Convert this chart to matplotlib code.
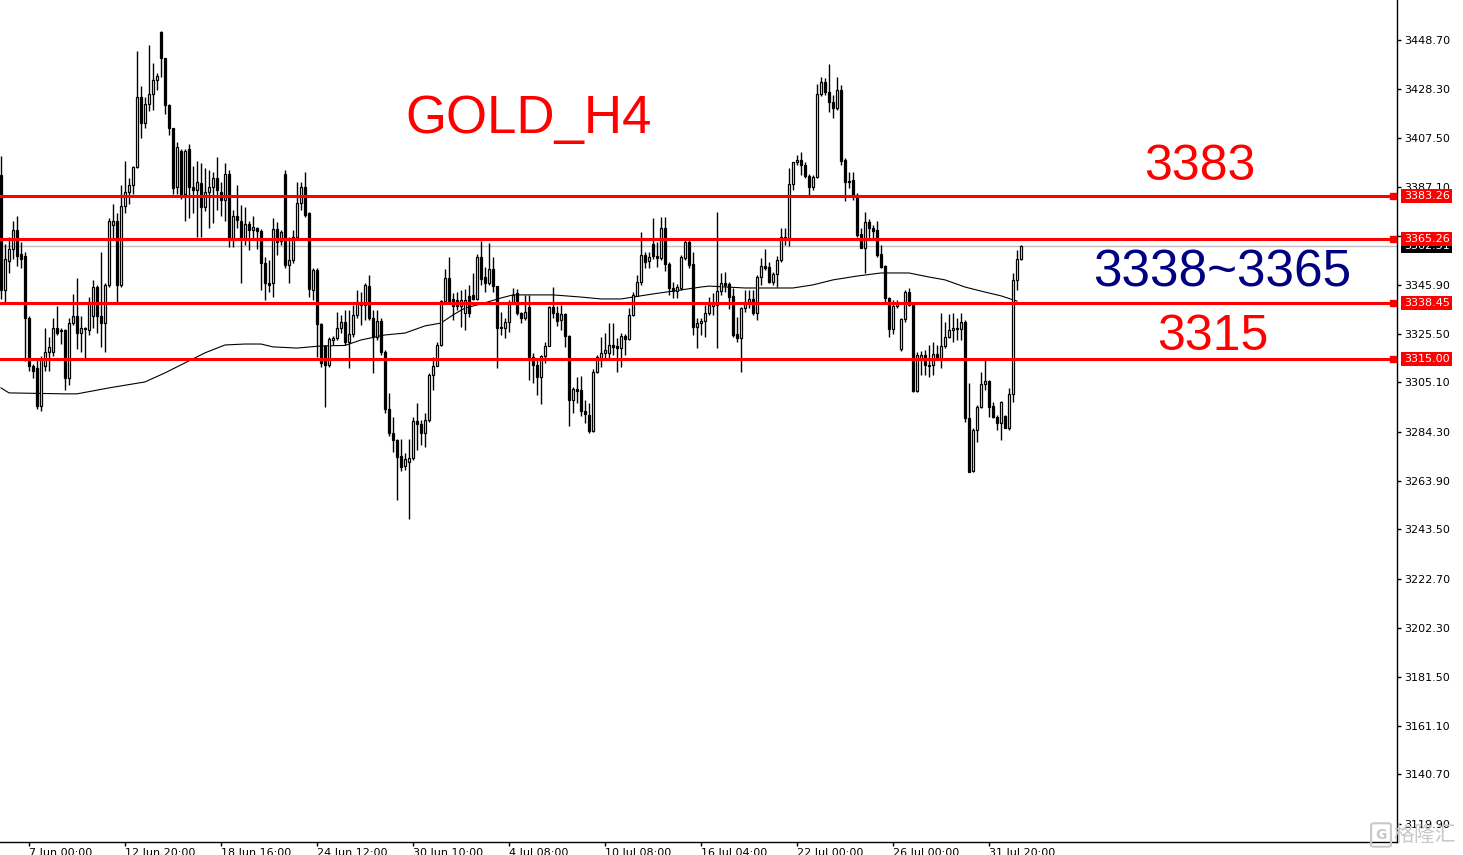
import matplotlib.pyplot as plt
import matplotlib.transforms as mtransforms
from matplotlib.patches import FancyBboxPatch
import numpy as np

# GOLD H4 candles (oldest first)
opens = [
    3392.0, 3344.0, 3356.0, 3361.0, 3369.0, 3359.0, 3358.0, 3332.0, 3312.0, 3311.0,
    3295.0, 3312.0, 3318.0, 3318.0, 3328.0, 3327.0, 3327.0, 3307.0, 3330.0, 3333.0,
    3326.0, 3328.0, 3327.0, 3333.0, 3345.0, 3333.0, 3330.0, 3346.0, 3371.0, 3373.0,
    3346.0, 3379.0, 3385.0, 3388.0, 3395.5, 3425.0, 3414.0, 3422.0, 3426.0, 3432.0,
    3452.0, 3441.0, 3421.5, 3412.0, 3387.0, 3402.0, 3384.0, 3403.0, 3387.0, 3386.0,
    3388.7, 3378.7, 3385.0, 3387.0, 3391.0, 3385.0, 3381.6, 3392.5, 3365.7, 3375.0,
    3373.0, 3365.7, 3371.6, 3369.0, 3369.9, 3368.6, 3355.2, 3347.0, 3346.8, 3369.5,
    3364.4, 3392.5, 3354.4, 3356.5, 3366.0, 3380.4, 3387.0, 3376.2, 3343.9, 3352.3,
    3329.6, 3320.4, 3312.4, 3322.9, 3323.7, 3327.9, 3330.5, 3322.1, 3325.4, 3333.4,
    3337.6, 3337.6, 3345.5, 3332.1, 3324.2, 3330.9, 3317.9, 3294.0, 3283.9, 3281.0,
    3274.3, 3270.1, 3271.7, 3273.4, 3288.9, 3287.7, 3283.9, 3289.4, 3308.2, 3312.0,
    3320.8, 3339.3, 3348.9, 3340.0, 3339.7, 3337.0, 3334.0, 3341.3, 3341.8, 3340.1,
    3357.7, 3349.3, 3346.8, 3352.7, 3345.5, 3328.4, 3327.9, 3330.5, 3338.0, 3342.6,
    3334.2, 3332.1, 3336.7, 3315.8, 3312.3, 3307.5, 3316.2, 3320.4, 3336.7, 3334.2,
    3331.3, 3333.8, 3324.6, 3297.7, 3302.3, 3301.9, 3293.2, 3291.5, 3284.7, 3309.5,
    3315.3, 3317.5, 3317.5, 3320.8, 3320.4, 3319.6, 3324.6, 3323.3, 3333.4, 3341.4,
    3347.2, 3358.6, 3356.0, 3363.0, 3358.1, 3357.3, 3369.9, 3354.8, 3344.7, 3343.4,
    3344.7, 3357.3, 3364.0, 3354.8, 3328.4, 3330.0, 3330.9, 3334.2, 3337.0, 3337.6,
    3343.5, 3346.8, 3346.4, 3341.4, 3325.4, 3323.7, 3336.3, 3338.8, 3340.1, 3334.2,
    3349.3, 3353.9, 3353.5, 3347.2, 3350.6, 3356.5, 3366.1, 3365.7, 3388.3, 3397.6,
    3398.4, 3396.3, 3391.7, 3387.1, 3391.3, 3426.0, 3431.1, 3426.9, 3422.7, 3420.2,
    3427.8, 3398.4, 3389.2, 3390.0, 3383.7, 3367.4, 3361.5, 3372.4, 3369.9, 3369.0,
    3359.0, 3353.9, 3340.5, 3327.5, 3337.2, 3319.1, 3331.7, 3343.0, 3338.0, 3301.5,
    3314.5, 3316.6, 3312.4, 3312.4, 3317.0, 3315.3, 3320.4, 3324.2, 3327.1, 3327.9,
    3327.5, 3330.5, 3290.2, 3267.9, 3285.2, 3294.8, 3304.5, 3305.7, 3295.2, 3290.6,
    3288.1, 3291.0, 3286.0, 3300.3, 3348.0, 3356.9,
]
highs = [
    3400.0, 3363.0, 3366.0, 3373.0, 3375.0, 3364.0, 3360.0, 3333.0, 3313.0, 3315.0,
    3316.0, 3328.0, 3324.0, 3332.0, 3337.0, 3328.0, 3327.5, 3332.0, 3342.0, 3349.0,
    3333.0, 3328.5, 3341.0, 3348.0, 3346.0, 3360.0, 3347.0, 3374.0, 3380.0, 3376.0,
    3388.0, 3398.0, 3391.0, 3396.0, 3444.0, 3429.5, 3425.0, 3446.6, 3439.0, 3435.0,
    3452.5, 3441.0, 3422.0, 3412.0, 3406.0, 3403.0, 3403.0, 3405.0, 3396.0, 3398.0,
    3397.0, 3395.0, 3394.0, 3393.4, 3399.7, 3389.0, 3397.0, 3394.0, 3377.4, 3388.0,
    3379.5, 3378.7, 3373.0, 3375.0, 3370.3, 3369.5, 3357.7, 3356.5, 3374.0, 3372.4,
    3369.0, 3394.0, 3366.0, 3369.0, 3389.0, 3389.0, 3393.4, 3376.6, 3353.0, 3353.0,
    3330.0, 3320.8, 3324.2, 3324.6, 3334.6, 3333.4, 3335.5, 3335.5, 3337.6, 3343.9,
    3343.0, 3346.8, 3350.0, 3335.5, 3335.5, 3332.1, 3318.7, 3300.7, 3290.6, 3281.4,
    3281.4, 3275.5, 3281.4, 3290.6, 3296.5, 3289.4, 3292.3, 3309.1, 3315.8, 3322.0,
    3339.7, 3352.7, 3357.7, 3342.6, 3343.0, 3343.9, 3344.3, 3346.0, 3351.0, 3359.0,
    3364.4, 3353.5, 3363.6, 3357.7, 3345.5, 3334.6, 3332.1, 3339.7, 3344.7, 3344.3,
    3334.6, 3341.8, 3341.8, 3317.5, 3314.5, 3316.6, 3322.0, 3337.2, 3345.1, 3337.2,
    3337.6, 3334.2, 3325.0, 3303.2, 3307.4, 3307.8, 3297.7, 3296.5, 3310.7, 3316.6,
    3324.2, 3325.8, 3330.0, 3330.0, 3323.7, 3325.8, 3325.4, 3336.3, 3343.0, 3350.2,
    3368.2, 3359.8, 3359.8, 3374.0, 3364.0, 3374.5, 3374.5, 3355.6, 3347.2, 3346.4,
    3358.6, 3365.7, 3365.7, 3359.8, 3332.1, 3332.1, 3337.6, 3341.0, 3342.6, 3376.6,
    3351.0, 3351.4, 3347.2, 3344.7, 3332.5, 3336.7, 3343.9, 3343.9, 3343.9, 3350.2,
    3357.3, 3361.0, 3355.6, 3351.4, 3358.1, 3369.9, 3369.9, 3395.0, 3397.6, 3400.5,
    3401.7, 3397.6, 3392.5, 3392.1, 3430.3, 3433.2, 3432.8, 3438.7, 3425.7, 3433.2,
    3429.9, 3399.2, 3393.4, 3393.4, 3384.6, 3369.9, 3376.6, 3373.6, 3371.1, 3372.8,
    3362.7, 3354.4, 3341.0, 3339.7, 3339.7, 3332.1, 3343.9, 3344.7, 3338.4, 3317.9,
    3318.3, 3318.7, 3320.8, 3322.0, 3320.8, 3334.2, 3330.3, 3333.8, 3334.2, 3332.1,
    3334.2, 3331.3, 3304.9, 3286.0, 3295.6, 3309.5, 3314.5, 3306.1, 3296.9, 3291.5,
    3297.3, 3291.5, 3302.8, 3351.0, 3360.7, 3362.7,
]
lows = [
    3340.0, 3339.0, 3351.0, 3357.0, 3354.0, 3353.0, 3314.0, 3310.0, 3307.0, 3294.0,
    3293.0, 3310.0, 3310.0, 3316.0, 3325.0, 3321.0, 3302.0, 3304.0, 3329.0, 3319.0,
    3318.0, 3315.0, 3325.0, 3328.0, 3326.0, 3320.0, 3318.0, 3345.0, 3365.0, 3339.0,
    3345.0, 3376.0, 3380.0, 3384.0, 3395.0, 3407.6, 3411.8, 3419.0, 3419.4, 3427.7,
    3433.0, 3417.7, 3409.0, 3384.0, 3384.0, 3382.0, 3373.0, 3374.0, 3376.0, 3366.0,
    3366.0, 3377.0, 3370.0, 3372.0, 3377.5, 3375.0, 3373.0, 3362.0, 3362.0, 3370.0,
    3346.8, 3362.7, 3360.7, 3365.7, 3361.0, 3343.9, 3339.7, 3343.0, 3341.0, 3358.6,
    3362.7, 3353.0, 3346.8, 3355.0, 3364.8, 3377.5, 3374.5, 3341.0, 3339.7, 3315.8,
    3311.6, 3294.8, 3311.6, 3320.8, 3322.9, 3325.8, 3320.8, 3311.2, 3324.2, 3332.1,
    3329.2, 3331.3, 3331.3, 3309.1, 3322.9, 3316.6, 3292.3, 3282.6, 3276.0, 3255.8,
    3268.0, 3268.4, 3247.8, 3272.6, 3276.8, 3278.9, 3278.0, 3288.5, 3302.0, 3312.0,
    3320.4, 3339.3, 3338.4, 3331.3, 3335.5, 3328.4, 3327.1, 3332.6, 3339.7, 3339.7,
    3346.0, 3343.0, 3346.0, 3343.0, 3311.2, 3325.0, 3323.7, 3326.3, 3338.0, 3333.4,
    3330.0, 3331.3, 3306.1, 3304.9, 3299.8, 3296.0, 3313.3, 3320.4, 3332.1, 3328.8,
    3327.1, 3320.0, 3286.8, 3292.3, 3296.5, 3291.0, 3288.1, 3283.9, 3284.3, 3309.1,
    3311.6, 3314.5, 3315.0, 3316.6, 3309.5, 3311.6, 3316.6, 3322.9, 3333.0, 3341.4,
    3346.0, 3353.1, 3353.1, 3357.0, 3353.5, 3356.5, 3352.0, 3341.8, 3340.5, 3340.5,
    3343.9, 3356.5, 3353.1, 3325.0, 3319.5, 3325.0, 3324.2, 3333.4, 3333.4, 3319.5,
    3341.8, 3343.0, 3335.9, 3324.2, 3322.1, 3309.5, 3334.6, 3336.3, 3333.4, 3331.3,
    3346.0, 3352.3, 3346.8, 3346.0, 3345.1, 3355.6, 3362.7, 3362.3, 3385.8, 3396.3,
    3392.1, 3390.8, 3383.7, 3385.8, 3390.8, 3425.2, 3425.7, 3418.5, 3416.0, 3419.4,
    3396.3, 3381.2, 3386.7, 3381.6, 3366.1, 3361.5, 3351.0, 3365.7, 3364.8, 3357.7,
    3353.1, 3338.8, 3324.2, 3325.4, 3336.3, 3318.3, 3330.5, 3337.2, 3301.1, 3301.1,
    3308.2, 3308.2, 3307.4, 3308.2, 3314.5, 3311.2, 3319.5, 3323.7, 3322.1, 3322.9,
    3322.9, 3288.5, 3267.5, 3267.5, 3280.0, 3294.4, 3302.0, 3290.6, 3290.2, 3285.2,
    3281.0, 3286.0, 3285.2, 3296.9, 3343.9, 3356.5,
]
closes = [
    3344.0, 3357.0, 3361.0, 3369.0, 3358.0, 3357.0, 3332.0, 3312.0, 3310.0, 3295.0,
    3315.0, 3318.0, 3320.0, 3328.0, 3326.0, 3326.5, 3307.0, 3330.0, 3333.0, 3326.0,
    3328.0, 3327.5, 3339.0, 3345.0, 3333.0, 3330.0, 3346.0, 3373.0, 3373.0, 3346.0,
    3379.0, 3385.0, 3388.0, 3395.5, 3425.0, 3414.0, 3422.0, 3426.0, 3432.0, 3433.6,
    3441.0, 3421.5, 3412.0, 3386.6, 3404.0, 3384.0, 3402.0, 3387.0, 3386.0, 3389.0,
    3378.7, 3385.0, 3387.0, 3391.0, 3386.0, 3381.6, 3392.5, 3365.7, 3375.0, 3373.2,
    3365.7, 3371.6, 3369.0, 3370.3, 3368.6, 3355.2, 3346.8, 3346.0, 3369.5, 3364.0,
    3368.2, 3354.4, 3356.5, 3366.0, 3380.4, 3387.0, 3375.3, 3344.3, 3352.3, 3329.6,
    3313.3, 3312.4, 3323.3, 3323.7, 3327.9, 3330.5, 3322.1, 3325.4, 3333.4, 3338.8,
    3338.8, 3346.0, 3332.1, 3324.2, 3330.9, 3317.9, 3294.0, 3283.9, 3281.0, 3273.8,
    3269.6, 3273.0, 3273.4, 3288.9, 3287.7, 3283.9, 3289.4, 3308.2, 3312.0, 3320.8,
    3339.3, 3348.9, 3339.3, 3337.0, 3337.0, 3339.7, 3339.7, 3334.0, 3340.1, 3357.7,
    3348.5, 3346.8, 3352.7, 3345.5, 3327.9, 3327.9, 3330.5, 3338.0, 3341.8, 3334.2,
    3332.1, 3334.6, 3315.8, 3312.3, 3307.5, 3316.2, 3320.4, 3336.7, 3334.2, 3330.9,
    3333.8, 3324.6, 3297.7, 3302.3, 3301.4, 3293.2, 3292.0, 3284.7, 3309.5, 3315.8,
    3317.5, 3318.7, 3320.8, 3320.1, 3319.6, 3324.6, 3323.3, 3333.4, 3341.8, 3347.2,
    3358.6, 3355.6, 3357.7, 3358.0, 3357.3, 3369.9, 3354.8, 3344.7, 3343.4, 3345.1,
    3357.7, 3364.0, 3354.4, 3328.4, 3330.0, 3330.9, 3334.2, 3337.6, 3338.0, 3343.5,
    3346.8, 3346.0, 3341.0, 3325.0, 3323.7, 3336.3, 3338.8, 3340.1, 3334.2, 3349.3,
    3353.9, 3353.1, 3347.2, 3350.6, 3356.5, 3366.1, 3365.7, 3388.3, 3397.6, 3398.4,
    3396.3, 3391.7, 3387.1, 3391.3, 3426.0, 3431.1, 3426.9, 3422.7, 3420.2, 3427.8,
    3398.0, 3389.2, 3389.6, 3383.7, 3367.0, 3361.5, 3372.4, 3369.9, 3368.6, 3358.6,
    3353.5, 3340.5, 3327.5, 3337.2, 3338.0, 3331.7, 3343.0, 3337.6, 3301.5, 3316.6,
    3316.6, 3312.4, 3312.0, 3317.0, 3315.3, 3320.4, 3324.2, 3327.1, 3327.9, 3327.5,
    3330.5, 3290.2, 3267.5, 3285.2, 3294.8, 3304.5, 3305.7, 3294.8, 3290.6, 3288.1,
    3296.9, 3286.0, 3300.3, 3348.0, 3356.9, 3362.5,
]

# moving average line, sampled at these bars
ma_bars = [0, 2, 16, 19, 27, 36, 41, 46, 51, 56, 61, 65, 68, 74, 80, 86, 90, 96,
           101, 106, 110, 113, 116, 120, 125, 128, 138, 145, 150, 155, 158, 163,
           168, 175, 177, 186, 198, 203, 208, 214, 220, 227, 232, 236, 241, 245,
           250, 254]
ma_vals = [3302.8, 3300.7, 3300.3, 3300.3, 3302.8, 3305.3, 3309.1, 3313.3, 3317.5,
           3320.8, 3321.2, 3321.2, 3320.0, 3319.5, 3320.4, 3320.6, 3322.9, 3325.0,
           3325.8, 3328.8, 3330.0, 3333.4, 3336.3, 3338.0, 3340.5, 3341.8, 3341.8,
           3340.9, 3340.1, 3340.1, 3340.9, 3342.2, 3343.4, 3345.1, 3345.5, 3344.7,
           3344.7, 3346.0, 3348.1, 3349.7, 3351.0, 3351.0, 3349.3, 3348.1, 3345.1,
           3343.4, 3341.4, 3339.2]

levels = [3383.26, 3365.26, 3338.45, 3315.00]
last_price = 3362.51

yticks = [3448.70, 3428.30, 3407.50, 3387.10, 3366.70, 3345.90, 3325.50, 3305.10,
          3284.30, 3263.90, 3243.50, 3222.70, 3202.30, 3181.50, 3161.10, 3140.70,
          3119.90]
xtick_bars = [7, 31, 55, 79, 103, 127, 151, 175, 199, 223, 247]
xtick_labels = ["7 Jun 00:00", "12 Jun 20:00", "18 Jun 16:00", "24 Jun 12:00",
                "30 Jun 10:00", "4 Jul 08:00", "10 Jul 08:00", "16 Jul 04:00",
                "22 Jul 00:00", "26 Jul 00:00", "31 Jul 20:00"]

RED = "#ff0000"

fig = plt.figure(figsize=(14.63, 8.55), dpi=100)
ax = fig.add_axes([0, 13 / 855, 1397 / 1463, 842 / 855])
ax.set_xlim(-0.25, 349.0)
ax.set_ylim(3112.35, 3465.48)

o = np.array(opens)
h = np.array(highs)
l = np.array(lows)
c = np.array(closes)
idx = np.arange(len(o))
up = c >= o
bottom = np.minimum(o, c)
height = np.maximum(np.abs(c - o), 0.3)

# candles
ax.vlines(idx, l, h, color="black", lw=1.0, zorder=2)
ax.bar(idx[up], height[up], bottom=bottom[up], width=0.58, color="white",
       edgecolor="black", lw=0.9, zorder=3)
ax.bar(idx[~up], height[~up], bottom=bottom[~up], width=0.58, color="black",
       edgecolor="black", lw=0.9, zorder=3)

ax.plot(ma_bars, ma_vals, color="black", lw=0.8, zorder=2.5)

# current price line
ax.axhline(last_price, color="#c0c0c0", lw=1.0, zorder=1.5)

# support / resistance lines
for v in levels:
    ax.axhline(v, color=RED, lw=2.2, zorder=4)
    ax.plot([348.0], [v], marker="s", ms=4, mfc=RED, mec=RED, clip_on=False, zorder=6)

# price tags on the right scale
trans = mtransforms.blended_transform_factory(ax.transAxes, ax.transData)
ax.text(1.0048, last_price, f"{last_price:.2f}", transform=trans, fontsize=8,
        color="white", ha="left", va="center", clip_on=False, zorder=5,
        bbox=dict(boxstyle="square,pad=0.2", fc="black", ec="none"))
for v in levels:
    ax.text(1.0048, v, f"{v:.2f}", transform=trans, fontsize=8, color="white",
            ha="left", va="center", clip_on=False, zorder=7,
            bbox=dict(boxstyle="square,pad=0.2", fc=RED, ec="none"))

# big annotations
ax.text(132.0, 3409.7, "GOLD_H4", color=RED, fontsize=38, family="Liberation Sans",
        ha="center", va="baseline", zorder=8)
ax.text(299.75, 3390.0, "3383", color=RED, fontsize=36, family="Liberation Sans",
        ha="center", va="baseline", zorder=8)
ax.text(305.25, 3345.5, "3338~3365", color="#000080", fontsize=37,
        family="Liberation Sans", ha="center", va="baseline", zorder=8)
ax.text(303.0, 3318.7, "3315", color=RED, fontsize=36, family="Liberation Sans",
        ha="center", va="baseline", zorder=8)

# axes look
for side in ["left", "top"]:
    ax.spines[side].set_visible(False)
ax.spines["right"].set_linewidth(1.0)
ax.spines["bottom"].set_linewidth(1.0)
ax.yaxis.tick_right()
ax.set_yticks(yticks, [f"{t:.2f}" for t in yticks])
ax.tick_params(axis="y", length=3, width=1, pad=2.5, labelsize=8, colors="black")
ax.set_xticks(xtick_bars, xtick_labels)
for lab in ax.get_xticklabels():
    lab.set_horizontalalignment("left")
ax.tick_params(axis="x", length=3, width=1, pad=1.5, labelsize=8)

# watermark
fig.patches.append(FancyBboxPatch((1374 / 1463, 10 / 855), 14 / 1463, 20 / 855,
                                  boxstyle="round,pad=0.002", transform=fig.transFigure,
                                  fc="none", ec="#c8c8c8", lw=1.5))
fig.text(1381 / 1463, 20 / 855, "G", color="#c8c8c8", fontsize=10, ha="center",
         va="center", weight="bold")
fig.text(1393 / 1463, 20 / 855, "格隆汇", color="#c8c8c8", fontsize=15,
         family=["Noto Sans CJK SC", "DejaVu Sans"], ha="left", va="center")

fig.savefig("out.png", dpi=100)
